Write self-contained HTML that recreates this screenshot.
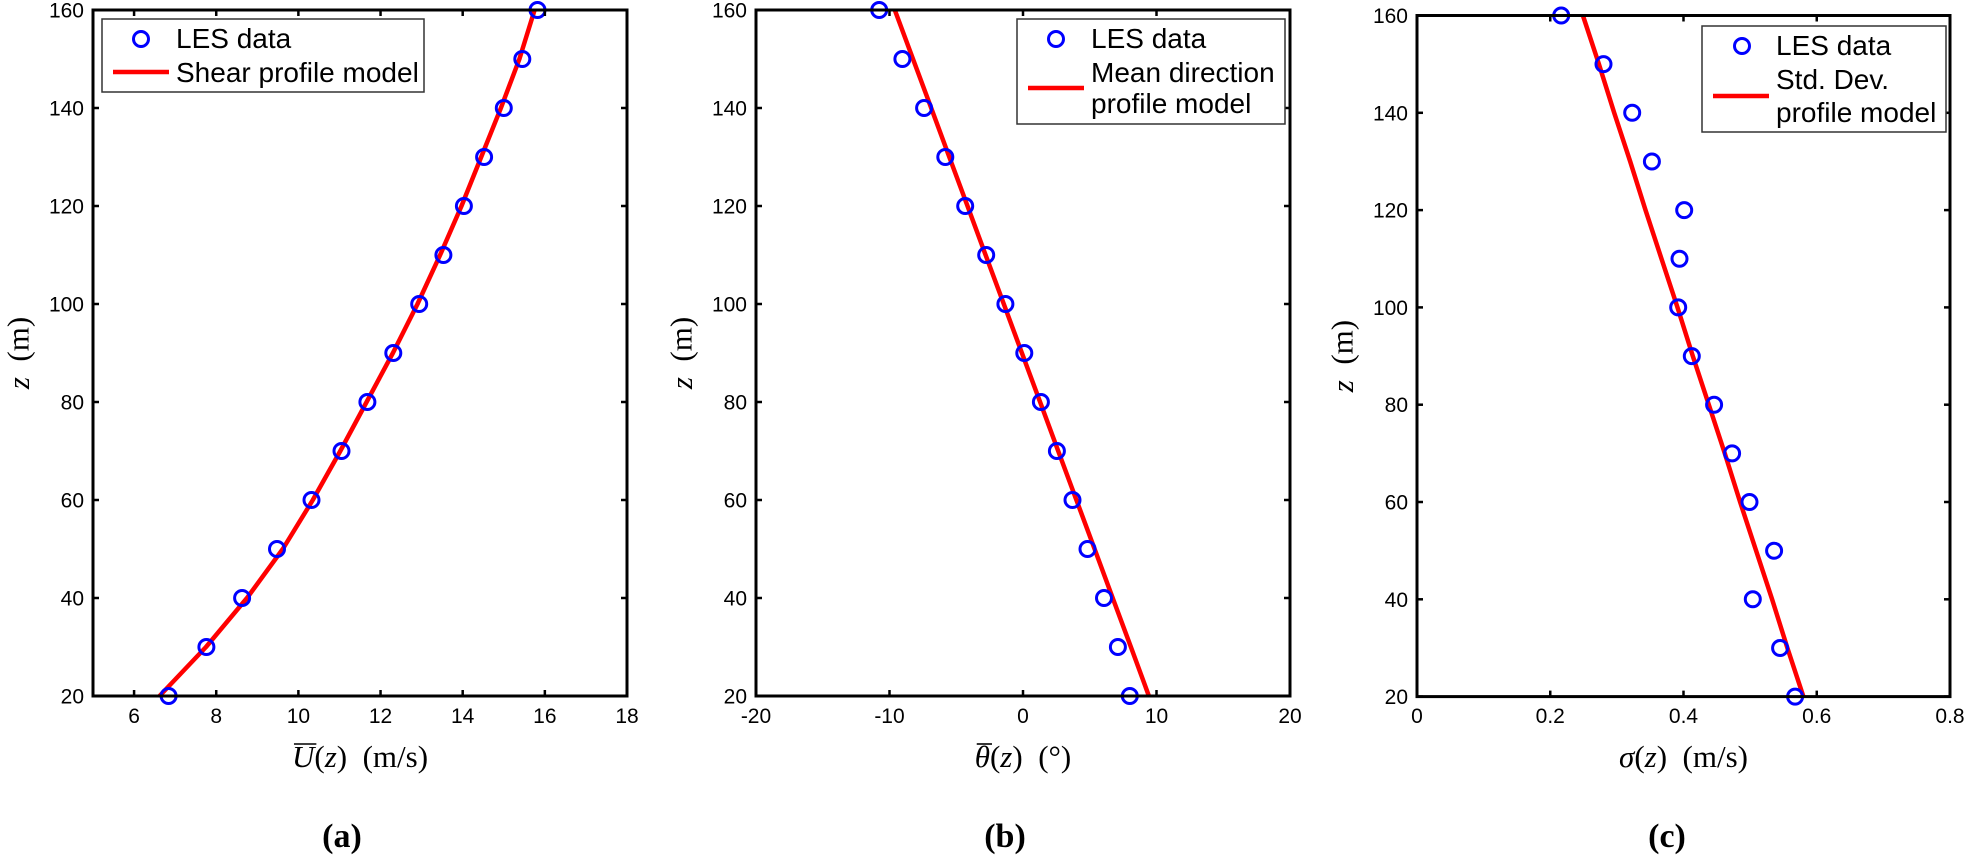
<!DOCTYPE html>
<html><head><meta charset="utf-8"><style>
html,body{margin:0;padding:0;background:#fff;}
svg{display:block;}
.tk{font-family:"Liberation Sans",sans-serif;font-size:21px;fill:#000;}
.lg{font-family:"Liberation Sans",sans-serif;font-size:28px;fill:#000;}
.ti{font-family:"Liberation Serif",serif;font-size:31px;fill:#000;}
.pl{font-family:"Liberation Serif",serif;font-size:34px;font-weight:bold;fill:#000;}
</style></head><body>
<svg id="fig" width="1968" height="855" viewBox="0 0 1968 855" xmlns="http://www.w3.org/2000/svg"></svg>
<script>
const zLevels=[160,150,140,130,120,110,100,90,80,70,60,50,40,30,20];
const zTicks=[20,40,60,80,100,120,140,160];
const uData=[15.82,15.45,15.0,14.52,14.03,13.53,12.94,12.31,11.68,11.05,10.32,9.48,8.63,7.76,6.84];
const uModel=[15.75,15.38,14.93,14.45,13.97,13.45,12.9,12.3,11.66,11.02,10.35,9.62,8.75,7.75,6.62];
const uTicks=[6,8,10,12,14,16,18];
const thData=[-10.77,-9.03,-7.41,-5.82,-4.33,-2.76,-1.32,0.1,1.34,2.54,3.71,4.83,6.07,7.11,8.0];
const thModel=[-9.6,-8.24,-6.88,-5.52,-4.16,-2.8,-1.44,-0.08,1.28,2.64,4.0,5.36,6.72,8.08,9.43];
const thTicks=[-20,-10,0,10,20];
const sdData=[0.2165,0.280,0.323,0.3525,0.401,0.394,0.392,0.4125,0.446,0.473,0.499,0.536,0.504,0.545,0.5675];
const sdModel=[0.249,0.273,0.296,0.320,0.343,0.367,0.391,0.414,0.438,0.462,0.485,0.509,0.533,0.556,0.580];
const sdTicks=[0,0.2,0.4,0.6,0.8];

const NS="http://www.w3.org/2000/svg";
const svg=document.getElementById('fig');
function mk(tag,attrs,parent){const e=document.createElementNS(NS,tag);for(const k in attrs)e.setAttribute(k,attrs[k]);(parent||svg).appendChild(e);return e;}

const panels=[
 {id:'a',x0:93,x1:627,y0:10,y1:696,xmin:5,xmax:18,xt:uTicks,data:uData,model:uModel,
  legend:{x:102,y:19,w:322,h:73,mk:[141,39],tx:176,lines:['LES data','Shear profile model'],base:[48,82],ln:[113,169,72]},
  title:'U', label:'(a)', labx:342},
 {id:'b',x0:756,x1:1290,y0:10,y1:696,xmin:-20,xmax:20,xt:thTicks,data:thData,model:thModel,
  legend:{x:1017,y:19,w:268,h:105,mk:[1056,39],tx:1091,lines:['LES data','Mean direction','profile model'],base:[48,82,113],ln:[1028,1084,88]},
  title:'th', label:'(b)', labx:1005},
 {id:'c',x0:1417,x1:1950,y0:15.5,y1:696.6,xmin:0,xmax:0.8,xt:sdTicks,data:sdData,model:sdModel,
  legend:{x:1702,y:26,w:244,h:106,mk:[1742,46],tx:1776,lines:['LES data','Std. Dev.','profile model'],base:[55,89,122],ln:[1713,1769,96]},
  title:'sd', label:'(c)', labx:1667}
];

panels.forEach(p=>{
  const g=mk('g',{});
  
  
  const sx=v=>p.x0+(v-p.xmin)/(p.xmax-p.xmin)*(p.x1-p.x0);
  const sy=z=>p.y1-(z-20)/(160-20)*(p.y1-p.y0);
  let d='';
  p.model.forEach((v,i)=>{d+=(i?'L':'M')+sx(v).toFixed(1)+' '+sy(zLevels[i]).toFixed(1);});
  const ml=mk('path',{d:d,fill:'none',stroke:'#ff0000','stroke-width':4.5,'stroke-linejoin':'round'},g);
  
  
  p.data.forEach((v,i)=>{
    const c=mk('circle',{cx:sx(v).toFixed(1),cy:sy(zLevels[i]).toFixed(1),r:7.5,fill:'none',stroke:'#0000ff','stroke-width':3},g);
    
    
  });
  const bx=mk('rect',{x:p.x0,y:p.y0,width:p.x1-p.x0,height:p.y1-p.y0,fill:'none',stroke:'#000','stroke-width':3},g);
  
  
  zTicks.forEach(z=>{
    const y=sy(z);
    mk('line',{x1:p.x0,x2:p.x0+6,y1:y,y2:y,stroke:'#000','stroke-width':2.5},g);
    mk('line',{x1:p.x1,x2:p.x1-6,y1:y,y2:y,stroke:'#000','stroke-width':2.5},g);
    const t=mk('text',{x:p.x0-9,y:y+7.5,'text-anchor':'end',class:'tk'},g);
    t.textContent=z;
    
    
  });
  p.xt.forEach(v=>{
    const x=sx(v);
    mk('line',{x1:x,x2:x,y1:p.y1,y2:p.y1-6,stroke:'#000','stroke-width':2.5},g);
    mk('line',{x1:x,x2:x,y1:p.y0,y2:p.y0+6,stroke:'#000','stroke-width':2.5},g);
    const t=mk('text',{x:x,y:723,'text-anchor':'middle',class:'tk'},g);
    t.textContent=String(v);
    
    
  });
  const cy=(p.y0+p.y1)/2, cx=p.x0-75;
  const yt=mk('text',{x:cx,y:cy,transform:'rotate(-90 '+cx+' '+cy+')','text-anchor':'middle',class:'ti','dominant-baseline':'central'},g);
  yt.innerHTML='<tspan font-style="italic">z</tspan>\u2002(m)';
  
  
  const xc=(p.x0+p.x1)/2;
  const xt=mk('text',{x:xc,y:767,'text-anchor':'middle',class:'ti'},g);
  if(p.title==='U') xt.innerHTML='<tspan class="ov" font-style="italic">U</tspan>(<tspan font-style="italic">z</tspan>)\u2002(m/s)';
  else if(p.title==='th') xt.innerHTML='<tspan class="ov" font-style="italic">θ</tspan>(<tspan font-style="italic">z</tspan>)\u2002(°)';
  else xt.innerHTML='<tspan font-style="italic">σ</tspan>(<tspan font-style="italic">z</tspan>)\u2002(m/s)';
  
  
  const ov=xt.querySelector('.ov');
  if(ov){
    try{
      const n=ov.getNumberOfChars? ov.getNumberOfChars():1;
      const s=xt.getStartPositionOfChar(0), e=xt.getEndPositionOfChar(0);
      mk('line',{x1:s.x+2,x2:e.x+2,y1:744,y2:744,stroke:'#000','stroke-width':1.6},g);
    }catch(err){}
  }
  const pl=mk('text',{x:p.labx,y:847,'text-anchor':'middle',class:'pl'},g);
  pl.textContent=p.label;
  
  
  const L=p.legend;
  const lg=mk('g',{},g);
  
  
  mk('rect',{x:L.x,y:L.y,width:L.w,height:L.h,fill:'#fff',stroke:'#333','stroke-width':1.5},lg);
  mk('circle',{cx:L.mk[0],cy:L.mk[1],r:7.5,fill:'none',stroke:'#0000ff','stroke-width':3},lg);
  mk('line',{x1:L.ln[0],x2:L.ln[1],y1:L.ln[2],y2:L.ln[2],stroke:'#ff0000','stroke-width':4.5},lg);
  L.lines.forEach((s,i)=>{
    const t=mk('text',{x:L.tx,y:L.base[i],class:'lg'},lg);
    t.textContent=s;
    
    
  });
});
</script>
</body></html>
